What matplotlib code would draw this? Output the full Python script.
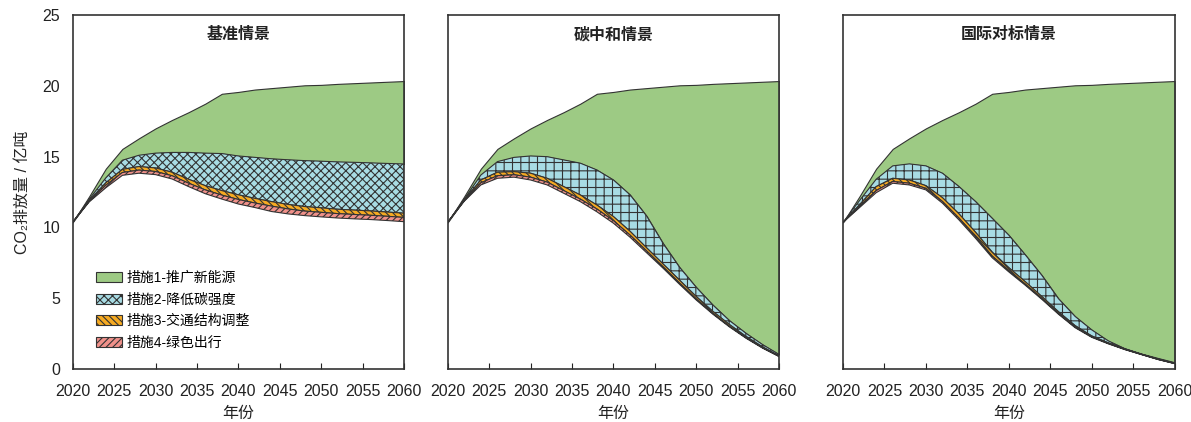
import matplotlib
matplotlib.use('Agg')
import matplotlib.pyplot as plt

# 字体设置
plt.rcParams['font.family'] = ['Liberation Sans', 'Noto Sans CJK SC', 'DejaVu Sans']
plt.rcParams['axes.unicode_minus'] = False
plt.rcParams['hatch.linewidth'] = 0.8

# 年份
years = [2020, 2022, 2024, 2026, 2028, 2030, 2032, 2034, 2036, 2038, 2040,
         2042, 2044, 2046, 2048, 2050, 2052, 2054, 2056, 2058, 2060]

# 无措施时的排放(绿色上沿), 亿吨
baseline = [10.35, 12.2, 14.15, 15.55, 16.3, 17.0, 17.6, 18.15, 18.75, 19.45, 19.58,
            19.75, 19.85, 19.95, 20.05, 20.08, 20.15, 20.2, 20.25, 20.3, 20.35]

# 基准情景
base_m2 = [10.35, 12.0, 13.5, 14.75, 15.1, 15.25, 15.3, 15.3, 15.25, 15.22, 15.05,
           14.95, 14.85, 14.78, 14.72, 14.68, 14.63, 14.6, 14.56, 14.52, 14.48]
base_m3 = [10.35, 11.9, 13.15, 14.1, 14.3, 14.2, 13.9, 13.4, 12.95, 12.6, 12.3,
           12.05, 11.82, 11.62, 11.47, 11.38, 11.28, 11.22, 11.16, 11.08, 11.0]
base_m4 = [10.35, 11.85, 12.98, 13.88, 14.05, 13.95, 13.65, 13.12, 12.65, 12.28, 11.97,
           11.72, 11.5, 11.3, 11.15, 11.06, 10.97, 10.91, 10.85, 10.78, 10.7]
base_rest = [10.35, 11.8, 12.8, 13.68, 13.83, 13.73, 13.42, 12.88, 12.38, 12.0, 11.65,
             11.4, 11.12, 10.95, 10.83, 10.74, 10.66, 10.6, 10.55, 10.48, 10.4]

# 碳中和情景
cn_m2 = [10.35, 12.0, 13.7, 14.65, 14.95, 15.05, 15.0, 14.77, 14.54, 14.06, 13.35,
         12.3, 10.8, 8.85, 7.15, 5.75, 4.5, 3.4, 2.5, 1.7, 1.0]
cn_m3 = [10.35, 11.95, 13.35, 13.9, 13.94, 13.83, 13.47, 12.88, 12.29, 11.58, 10.76,
         9.72, 8.55, 7.4, 6.25, 5.1, 4.05, 3.12, 2.28, 1.54, 0.9]
cn_m4 = [10.35, 11.9, 13.15, 13.65, 13.72, 13.55, 13.2, 12.6, 12.0, 11.3, 10.47,
         9.45, 8.33, 7.2, 6.05, 4.93, 3.91, 3.0, 2.19, 1.48, 0.87]
cn_rest = [10.35, 11.85, 13.0, 13.47, 13.55, 13.35, 13.0, 12.41, 11.82, 11.1, 10.29,
           9.3, 8.2, 7.1, 5.95, 4.85, 3.85, 2.95, 2.15, 1.45, 0.85]

# 国际对标情景
intl_m2 = [10.35, 11.9, 13.4, 14.35, 14.49, 14.35, 13.83, 12.88, 11.82, 10.64, 9.45,
           8.05, 6.6, 4.95, 3.7, 2.75, 1.97, 1.42, 1.04, 0.73, 0.43]
intl_m3 = [10.35, 11.6, 12.88, 13.47, 13.35, 12.95, 12.1, 10.95, 9.65, 8.25, 7.15,
           6.15, 5.1, 4.03, 3.05, 2.32, 1.83, 1.4, 1.03, 0.68, 0.38]
intl_m4 = [10.35, 11.5, 12.6, 13.25, 13.12, 12.76, 11.83, 10.65, 9.35, 7.97, 6.95,
           5.98, 4.97, 3.91, 2.95, 2.26, 1.79, 1.37, 1.01, 0.66, 0.37]
intl_rest = [10.35, 11.4, 12.45, 13.12, 13.0, 12.65, 11.71, 10.52, 9.22, 7.85, 6.85,
             5.9, 4.9, 3.85, 2.9, 2.22, 1.76, 1.35, 1.0, 0.65, 0.36]

titles = ['基准情景', '碳中和情景', '国际对标情景']
measures = ['措施1-推广新能源', '措施2-降低碳强度', '措施3-交通结构调整', '措施4-绿色出行']
colors = ['#9dca84', '#a8dce4', '#f6aa22', '#f0918a']

scenarios = [
    (base_m2, base_m3, base_m4, base_rest),
    (cn_m2, cn_m3, cn_m4, cn_rest),
    (intl_m2, intl_m3, intl_m4, intl_rest),
]
grid_hatch = ['xxxx', '++', '++']
lefts = [0.0610, 0.3759, 0.7078]

fig = plt.figure(figsize=(11.91, 4.22), dpi=100)
edge = '#333333'

for i, (m2, m3, m4, rest) in enumerate(scenarios):
    ax = fig.add_axes([lefts[i], 0.1263, 0.2784, 0.8374])
    hatches = [None, grid_hatch[i], '\\\\\\\\\\', '/////']
    uppers = [baseline, m2, m3, m4]
    lowers = [m2, m3, m4, rest]
    for k in range(4):
        ax.fill_between(years, lowers[k], uppers[k], facecolor=colors[k],
                        edgecolor=edge, linewidth=0.8, hatch=hatches[k],
                        label=measures[k])

    ax.set_xlim(2020, 2060)
    ax.set_ylim(0, 25)
    ax.set_xticks(range(2020, 2061, 5))
    ax.tick_params(axis='x', direction='in', length=4, width=0.8, pad=11,
                   labelsize=11.5, colors='#222222')
    if i == 0:
        ax.set_yticks(range(0, 26, 5))
        ax.tick_params(axis='y', length=0, pad=9, labelsize=11.5, colors='#222222')
        ax.set_ylabel('CO₂排放量 / 亿吨', fontsize=11.5, labelpad=9, color='#222222')
        ax.legend(loc='lower left', bbox_to_anchor=(0.055, 0.038), frameon=False,
                  fontsize=10, handlelength=1.85, handleheight=0.75,
                  handletextpad=0.3, labelspacing=0.55, borderaxespad=0)
    else:
        ax.set_yticks([])
    for sp in ax.spines.values():
        sp.set_color(edge)
        sp.set_linewidth(1.2)
    ax.set_xlabel('年份', fontsize=11.5, labelpad=5, color='#222222')
    ax.text(0.5, 0.945, titles[i], transform=ax.transAxes, ha='center', va='center',
            fontsize=11.5, fontweight='bold', color='#222222')

plt.savefig('out.png', dpi=100)
